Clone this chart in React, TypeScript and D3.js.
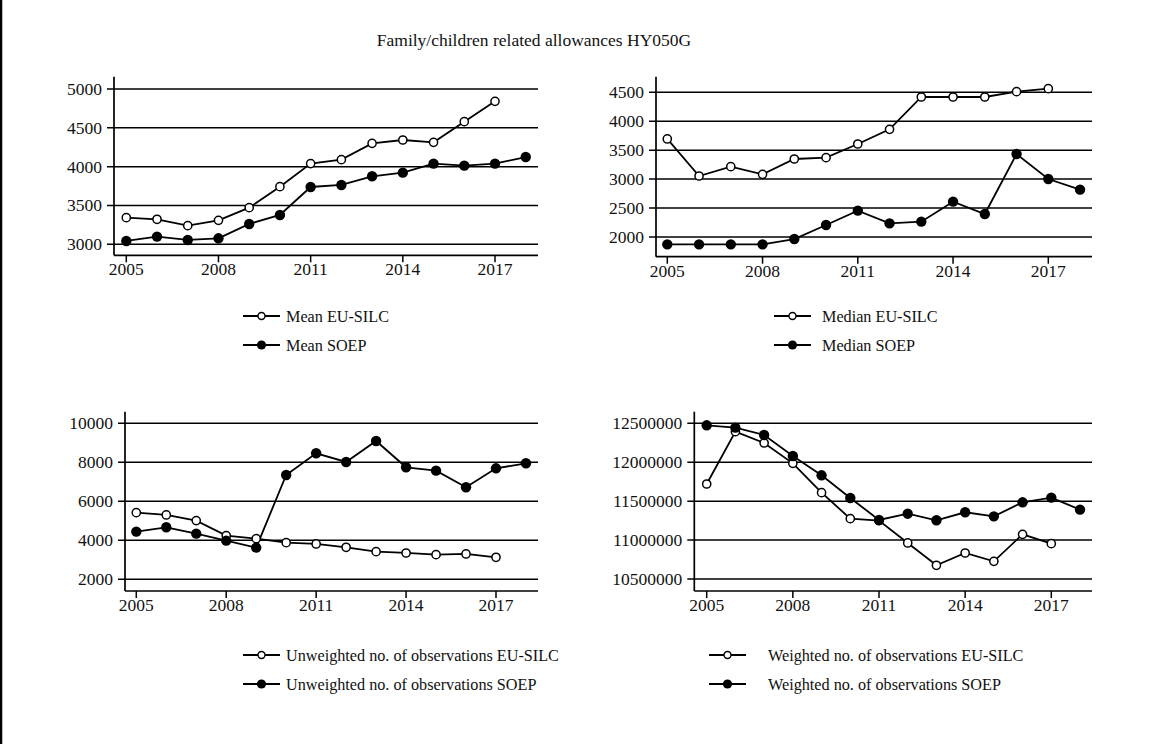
import React from "react";
import * as d3 from "d3";

const yearsEU = [2005, 2006, 2007, 2008, 2009, 2010, 2011, 2012, 2013, 2014, 2015, 2016, 2017];
const yearsSOEP = [2005, 2006, 2007, 2008, 2009, 2010, 2011, 2012, 2013, 2014, 2015, 2016, 2017, 2018];
const xTicks = [2005, 2008, 2011, 2014, 2017];

const meanEU = [3343, 3322, 3240, 3309, 3472, 3742, 4039, 4090, 4300, 4343, 4313, 4579, 4841];
const meanSOEP = [3043, 3099, 3056, 3077, 3262, 3378, 3738, 3764, 3876, 3923, 4039, 4013, 4039, 4124];
const medianEU = [3694, 3054, 3215, 3083, 3348, 3371, 3607, 3860, 4419, 4419, 4419, 4511, 4563];
const medianSOEP = [1873, 1873, 1873, 1873, 1965, 2207, 2455, 2236, 2265, 2611, 2397, 3434, 3002, 2818];
const unwEU = [5419, 5299, 5009, 4239, 4085, 3880, 3812, 3641, 3419, 3350, 3265, 3299, 3128];
const unwSOEP = [4444, 4667, 4342, 3983, 3624, 7350, 8462, 8017, 9094, 7744, 7573, 6718, 7692, 7949];
const wEU = [11720000, 12393000, 12247000, 11986000, 11609000, 11275000, 11250000, 10963000, 10676000, 10834000, 10727000, 11074000, 10954000];
const wSOEP = [12474000, 12444000, 12350000, 12080000, 11832000, 11541000, 11258000, 11339000, 11254000, 11357000, 11305000, 11485000, 11545000, 11391000];

const meanTicks = [3000, 3500, 4000, 4500, 5000];
const medianTicks = [2000, 2500, 3000, 3500, 4000, 4500];
const unwTicks = [2000, 4000, 6000, 8000, 10000];
const wTicks = [10500000, 11000000, 11500000, 12000000, 12500000];

const title = "Family/children related allowances HY050G";
const FONT = "'Liberation Serif', 'Times New Roman', serif";
const FS = 17.5;
const LFS = 16.2;

type Panel = {
  eu: number[];
  soep: number[];
  ticks: number[];
  labels: [string, string];
  left: number;
  right: number;
  top: number;
  bottom: number;
  yr: [number, number];
  xr: [number, number];
  legX: number;
  legTextX: number;
  legY: number;
};

const panels: Panel[] = [
  { eu: meanEU, soep: meanSOEP, ticks: meanTicks, labels: ["Mean EU-SILC", "Mean SOEP"],
    left: 114, right: 538, top: 76.7, bottom: 255.3, yr: [244.3, 89], xr: [126.3, 495],
    legX: 243, legTextX: 286, legY: 316 },
  { eu: medianEU, soep: medianSOEP, ticks: medianTicks, labels: ["Median EU-SILC", "Median SOEP"],
    left: 656, right: 1092, top: 76.7, bottom: 256.7, yr: [237, 92.3], xr: [667.3, 1048.3],
    legX: 774, legTextX: 822, legY: 316 },
  { eu: unwEU, soep: unwSOEP, ticks: unwTicks,
    labels: ["Unweighted no. of observations EU-SILC", "Unweighted no. of observations SOEP"],
    left: 125, right: 538, top: 411.7, bottom: 591, yr: [579.3, 423.3], xr: [136.3, 496],
    legX: 243, legTextX: 286, legY: 655 },
  { eu: wEU, soep: wSOEP, ticks: wTicks,
    labels: ["Weighted no. of observations EU-SILC", "Weighted no. of observations SOEP"],
    left: 694.3, right: 1092, top: 411.7, bottom: 591, yr: [579, 423.3], xr: [706.7, 1051.3],
    legX: 709, legTextX: 768, legY: 655 },
];

function PanelView({ p }: { p: Panel }) {
  const y = d3.scaleLinear().domain([p.ticks[0], p.ticks[p.ticks.length - 1]]).range(p.yr);
  const x = d3.scaleLinear().domain([2005, 2017]).range(p.xr);
  const lineEU = d3.line<number>().x((_, i) => x(yearsEU[i])).y((d) => y(d));
  const lineSO = d3.line<number>().x((_, i) => x(yearsSOEP[i])).y((d) => y(d));
  const legLen = 37;
  return (
    <g>
      {p.ticks.map((t) => (
        <g key={t}>
          <line x1={p.left - 7} x2={p.right} y1={y(t)} y2={y(t)} stroke="#000" strokeWidth={1.5} />
          <text x={p.left - 12} y={y(t)} dy="0.34em" textAnchor="end" fontSize={FS} fontFamily={FONT} fill="#111">
            {t}
          </text>
        </g>
      ))}
      <line x1={p.left} x2={p.left} y1={p.top} y2={p.bottom} stroke="#000" strokeWidth={1.7} />
      <line x1={p.left} x2={p.right} y1={p.bottom} y2={p.bottom} stroke="#000" strokeWidth={1.7} />
      {xTicks.map((t) => (
        <g key={t}>
          <line x1={x(t)} x2={x(t)} y1={p.bottom} y2={p.bottom + 7} stroke="#000" strokeWidth={1.5} />
          <text x={x(t)} y={p.bottom + 20} textAnchor="middle" fontSize={FS} fontFamily={FONT} fill="#111">
            {t}
          </text>
        </g>
      ))}
      <path d={lineEU(p.eu) || ""} fill="none" stroke="#000" strokeWidth={1.8} />
      <path d={lineSO(p.soep) || ""} fill="none" stroke="#000" strokeWidth={1.8} />
      {p.eu.map((v, i) => (
        <circle key={"e" + i} cx={x(yearsEU[i])} cy={y(v)} r={4.1} fill="#fff" stroke="#000" strokeWidth={1.5} />
      ))}
      {p.soep.map((v, i) => (
        <circle key={"s" + i} cx={x(yearsSOEP[i])} cy={y(v)} r={5.2} fill="#000" />
      ))}
      {p.labels.map((lab, k) => {
        const ly = p.legY + k * 29;
        return (
          <g key={lab}>
            <line x1={p.legX} x2={p.legX + legLen} y1={ly} y2={ly} stroke="#000" strokeWidth={2} />
            {k === 0 ? (
              <circle cx={p.legX + legLen / 2} cy={ly} r={3.5} fill="#fff" stroke="#000" strokeWidth={1.4} />
            ) : (
              <circle cx={p.legX + legLen / 2} cy={ly} r={4.6} fill="#000" />
            )}
            <text x={p.legTextX} y={ly} dy="0.34em" fontSize={LFS} fontFamily={FONT} fill="#111">
              {lab}
            </text>
          </g>
        );
      })}
    </g>
  );
}

export default function App() {
  return (
    <svg width={1168} height={744} style={{ position: "absolute", left: 0, top: 0, background: "#fff" }}>
      <rect x={0} y={0} width={1168} height={744} fill="#fff" />
      <line x1={1} x2={1} y1={0} y2={744} stroke="#000" strokeWidth={2.5} />
      <text x={534} y={40} dy="0.34em" textAnchor="middle" fontSize={FS} fontFamily={FONT} fill="#111">
        {title}
      </text>
      {panels.map((p, i) => (
        <PanelView key={i} p={p} />
      ))}
    </svg>
  );
}
